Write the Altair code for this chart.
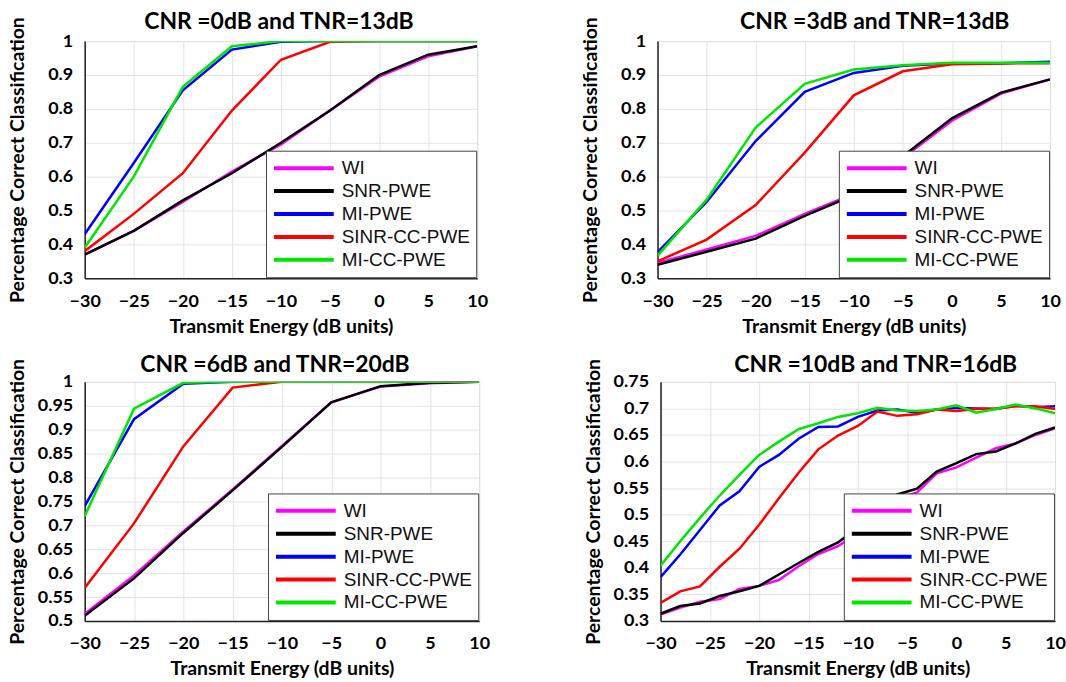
import altair as alt
import pandas as pd

SERIES = ["WI", "SNR-PWE", "MI-PWE", "SINR-CC-PWE", "MI-CC-PWE"]
COLORS = ["#ff00ff", "#000000", "#0000ff", "#ff0000", "#00e600"]

X_TICKS = [-30, -25, -20, -15, -10, -5, 0, 5, 10]

# Panels 1-3: x every 5 dB
X5 = [-30, -25, -20, -15, -10, -5, 0, 5, 10]
# Panel 4: x every 2 dB
X2 = [-30, -28, -26, -24, -22, -20, -18, -16, -14, -12, -10,
      -8, -6, -4, -2, 0, 2, 4, 6, 8, 10]

# Panel 1: CNR=0dB, TNR=13dB
p1_wi = [0.37, 0.44, 0.525, 0.615, 0.695, 0.795, 0.895, 0.955, 0.985]
p1_snr = [0.37, 0.44, 0.53, 0.61, 0.70, 0.795, 0.90, 0.96, 0.985]
p1_mi = [0.43, 0.64, 0.855, 0.975, 0.998, 1.0, 1.0, 1.0, 1.0]
p1_sinr = [0.38, 0.49, 0.61, 0.795, 0.945, 0.998, 1.0, 1.0, 1.0]
p1_micc = [0.39, 0.60, 0.865, 0.985, 1.0, 1.0, 1.0, 1.0, 1.0]

# Panel 2: CNR=3dB, TNR=13dB
p2_wi = [0.345, 0.385, 0.425, 0.49, 0.55, 0.655, 0.765, 0.845, 0.887]
p2_snr = [0.34, 0.378, 0.417, 0.484, 0.545, 0.66, 0.772, 0.848, 0.887]
p2_mi = [0.377, 0.525, 0.705, 0.85, 0.906, 0.927, 0.934, 0.935, 0.939]
p2_sinr = [0.35, 0.414, 0.516, 0.671, 0.84, 0.911, 0.932, 0.934, 0.935]
p2_micc = [0.366, 0.532, 0.745, 0.874, 0.916, 0.929, 0.936, 0.936, 0.936]

# Panel 3: CNR=6dB, TNR=20dB
p3_wi = [0.515, 0.595, 0.687, 0.775, 0.866, 0.957, 0.99, 0.997, 1.0]
p3_snr = [0.511, 0.589, 0.684, 0.773, 0.864, 0.957, 0.991, 0.998, 1.0]
p3_mi = [0.74, 0.922, 0.996, 1.0, 1.0, 1.0, 1.0, 1.0, 1.0]
p3_sinr = [0.569, 0.704, 0.865, 0.988, 1.0, 1.0, 1.0, 1.0, 1.0]
p3_micc = [0.719, 0.944, 0.998, 1.0, 1.0, 1.0, 1.0, 1.0, 1.0]

# Panel 4: CNR=10dB, TNR=16dB
p4_wi = [0.312, 0.325, 0.336, 0.341, 0.36, 0.366, 0.377, 0.403, 0.426, 0.441, 0.465,
         0.50, 0.53, 0.542, 0.578, 0.589, 0.6075, 0.625, 0.634, 0.65, 0.6625]
p4_snr = [0.3135, 0.328, 0.333, 0.347, 0.356, 0.366, 0.3875, 0.409, 0.43, 0.448, 0.475,
          0.51, 0.538, 0.549, 0.581, 0.597, 0.614, 0.619, 0.634, 0.652, 0.664]
p4_mi = [0.3825, 0.425, 0.471, 0.5175, 0.544, 0.59, 0.6125, 0.643, 0.665, 0.666, 0.684,
         0.696, 0.698, 0.692, 0.698, 0.701, 0.70, 0.699, 0.705, 0.702, 0.704]
p4_sinr = [0.334, 0.3556, 0.365, 0.402, 0.436, 0.481, 0.531, 0.579, 0.623, 0.649, 0.667,
           0.694, 0.686, 0.689, 0.698, 0.695, 0.699, 0.70, 0.704, 0.704, 0.699]
p4_micc = [0.404, 0.45, 0.494, 0.536, 0.575, 0.6125, 0.6375, 0.661, 0.672, 0.684, 0.691,
           0.701, 0.696, 0.695, 0.698, 0.706, 0.692, 0.699, 0.7075, 0.70, 0.691]

Y1_TICKS = [0.3, 0.4, 0.5, 0.6, 0.7, 0.8, 0.9, 1.0]
Y3_TICKS = [0.5, 0.55, 0.6, 0.65, 0.7, 0.75, 0.8, 0.85, 0.9, 0.95, 1.0]
Y4_TICKS = [0.3, 0.35, 0.4, 0.45, 0.5, 0.55, 0.6, 0.65, 0.7, 0.75]

TITLES = ["CNR =0dB and TNR=13dB", "CNR =3dB and TNR=13dB",
          "CNR =6dB and TNR=20dB", "CNR =10dB and TNR=16dB"]


def make_df(x, series_lists):
    rows = []
    for name, vals in zip(SERIES, series_lists):
        for xi, yi in zip(x, vals):
            rows.append({"x": xi, "y": yi, "series": name})
    return pd.DataFrame(rows)


def panel(title, x, series_lists, ydom, yticks, dx, offset, width, height, title_x):
    df = make_df(x, series_lists)
    base = alt.Chart(df)
    enc = dict(
        x=alt.X("x:Q", scale=alt.Scale(domain=[-30, 10], nice=False),
                axis=alt.Axis(values=X_TICKS, title="Transmit Energy (dB units)",
                              labelFlush=False)),
        y=alt.Y("y:Q", scale=alt.Scale(domain=ydom, nice=False, zero=False),
                axis=alt.Axis(values=yticks, format=".2~f",
                              title="Percentage Correct Classification",
                              titleX=title_x)),
        color=alt.Color("series:N", scale=alt.Scale(domain=SERIES, range=COLORS),
                        legend=alt.Legend(title=None)),
    )
    layers = []
    for s in SERIES:
        layers.append(
            base.transform_filter(alt.datum.series == s)
            .mark_line(strokeWidth=2.5, clip=True)
            .encode(**enc)
        )
    return alt.layer(*layers).properties(
        width=width, height=height,
        title=alt.TitleParams(title, font="Lato", fontSize=23, fontWeight="bold",
                              anchor="middle", frame="group", dx=dx, offset=offset,
                              color="#000"),
    )


c1 = panel(TITLES[0], X5, [p1_wi, p1_snr, p1_mi, p1_sinr, p1_micc], [0.3, 1.0], Y1_TICKS, -2, -17, 394, 238, -57)
c2 = panel(TITLES[1], X5, [p2_wi, p2_snr, p2_mi, p2_sinr, p2_micc], [0.3, 1.0], Y1_TICKS, 21, -17, 394, 238, -57)
c3 = panel(TITLES[2], X5, [p3_wi, p3_snr, p3_mi, p3_sinr, p3_micc], [0.5, 1.0], Y3_TICKS, -7, -19, 396, 240, -57)
c4 = panel(TITLES[3], X2, [p4_wi, p4_snr, p4_mi, p4_sinr, p4_micc], [0.3, 0.75], Y4_TICKS, 18, -19, 396, 240, -57)

row1 = alt.hconcat(c1, c2, spacing=92).resolve_scale(color="independent").resolve_legend(color="independent")
row2 = alt.hconcat(c3, c4, spacing=93).resolve_scale(color="independent").resolve_legend(color="independent")

chart = (
    alt.vconcat(row1, row2, spacing=17)
    .resolve_scale(color="independent")
    .resolve_legend(color="independent")
    .properties(padding={"left": 7, "top": 8, "right": 0, "bottom": 0}, background="white")
    .configure_view(stroke="#d9d9d9", strokeWidth=1)
    .configure_axis(
        labelFont="Lato", labelFontWeight="bold", labelFontSize=18, labelColor="#000",
        titleFont="Lato", titleFontWeight="bold", titleFontSize=19.5, titleColor="#000",
        grid=True, gridColor="#e3e3e3", gridWidth=1,
        domainColor="#222", domainWidth=1.5,
        ticks=False, tickSize=0,
    )
    .configure_axisX(labelPadding=14, titlePadding=7)
    .configure_axisY(labelPadding=12)
    .configure_legend(
        orient="bottom-right", offset=1, fillColor="white", strokeColor="#444",
        padding=6, symbolType="stroke", symbolSize=3600, symbolStrokeWidth=4,
        labelFont="Liberation Sans", labelFontSize=19, labelColor="#111",
        labelOffset=6, rowPadding=0, clipHeight=23, labelLimit=0,
    )
)

chart.save("out.html", embed_options={"renderer": "svg", "actions": False})
